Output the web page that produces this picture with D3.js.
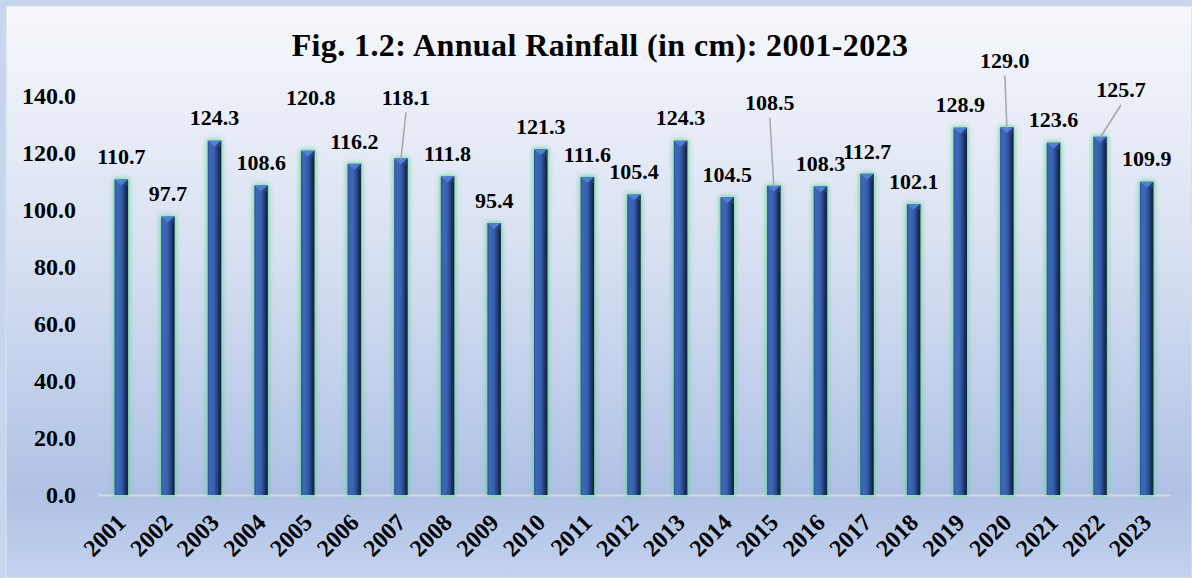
<!DOCTYPE html>
<html>
<head>
<meta charset="utf-8">
<script src="https://cdn.jsdelivr.net/npm/d3@7/dist/d3.min.js"></script>
<style>
html, body { margin: 0; padding: 0; background: #c6d6ee; }
svg { display: block; }
text { font-family: "Liberation Serif", "Times New Roman", serif; font-weight: bold; fill: #000; }
</style>
</head>
<body>
<svg id="chart" width="1192" height="578"></svg>
<script>
var years = ["2001","2002","2003","2004","2005","2006","2007","2008","2009","2010","2011","2012",
             "2013","2014","2015","2016","2017","2018","2019","2020","2021","2022","2023"];
var rainfall = [110.7, 97.7, 124.3, 108.6, 120.8, 116.2, 118.1, 111.8, 95.4, 121.3, 111.6, 105.4,
                124.3, 104.5, 108.5, 108.3, 112.7, 102.1, 128.9, 129.0, 123.6, 125.7, 109.9];
var yTicks = [0, 20, 40, 60, 80, 100, 120, 140];
var chartTitle = "Fig. 1.2: Annual Rainfall (in cm): 2001-2023";

// labels that were dragged away from their bar in the original (px), and the ones with a leader line
var labelMoves = { "2005": [3, -30], "2007": [5, -38], "2015": [-4, -60], "2020": [-2, -44], "2022": [21, -24] };
var leaderYears = ["2007", "2015", "2020", "2022"];

var svg = d3.select("#chart");
var W = 1192, H = 578;

var defs = svg.append("defs");

var bg = defs.append("linearGradient").attr("id", "bg")
	.attr("x1", 0).attr("y1", 0).attr("x2", 0).attr("y2", 1);
bg.append("stop").attr("offset", "0%").attr("stop-color", "#f7f8fc");
bg.append("stop").attr("offset", "45%").attr("stop-color", "#d6dff1");
bg.append("stop").attr("offset", "85%").attr("stop-color", "#afc1e5");
bg.append("stop").attr("offset", "100%").attr("stop-color", "#c3d2ee");

var face = defs.append("linearGradient").attr("id", "face")
	.attr("x1", 0).attr("y1", 0).attr("x2", 1).attr("y2", 0);
face.append("stop").attr("offset", "0%").attr("stop-color", "#2a4f98");
face.append("stop").attr("offset", "15%").attr("stop-color", "#3d68b8");
face.append("stop").attr("offset", "45%").attr("stop-color", "#3862b0");
face.append("stop").attr("offset", "68%").attr("stop-color", "#27478a");
face.append("stop").attr("offset", "85%").attr("stop-color", "#1a2c54");
face.append("stop").attr("offset", "100%").attr("stop-color", "#14213f");

// soft green halo behind the bars
var glow = defs.append("filter").attr("id", "glow")
	.attr("x", "-100%").attr("y", "-20%").attr("width", "300%").attr("height", "140%");
glow.append("feMorphology").attr("in", "SourceAlpha").attr("operator", "dilate").attr("radius", 1).attr("result", "d");
glow.append("feGaussianBlur").attr("in", "d").attr("stdDeviation", 2.6).attr("result", "b");
glow.append("feFlood").attr("flood-color", "#62d890").attr("flood-opacity", 0.95);
glow.append("feComposite").attr("in2", "b").attr("operator", "in");

// background panel
svg.append("rect").attr("x", 0).attr("y", 0).attr("width", W).attr("height", H).attr("fill", "#c6d6ee");
svg.append("rect").attr("x", 6).attr("y", 6).attr("width", W - 6).attr("height", H - 6)
	.attr("fill", "url(#bg)").attr("stroke", "#d9dde6").attr("stroke-width", 1.5);

var x = d3.scaleBand().domain(years).range([98, 1170]).paddingInner(0.71).paddingOuter(0.355);
var y = d3.scaleLinear().domain([0, 140]).range([495, 96]);

svg.append("text")
	.attr("x", 600).attr("y", 56)
	.attr("text-anchor", "middle")
	.style("font-size", "32px")
	.style("letter-spacing", "0.4px")
	.text(chartTitle);

// y axis, labels only
var yAxis = svg.append("g").attr("transform", "translate(98,0)")
	.call(d3.axisLeft(y).tickValues(yTicks).tickFormat(d3.format(".1f")).tickSize(0).tickPadding(22));
yAxis.select(".domain").remove();
yAxis.selectAll("text")
	.style("font-family", "Liberation Serif").style("font-weight", "bold")
	.style("font-size", "24px").attr("fill", "#000");

// x axis
var xAxis = svg.append("g").attr("transform", "translate(0,495)")
	.call(d3.axisBottom(x).tickSize(0).tickSizeOuter(0));
xAxis.select(".domain").attr("stroke", "#d9d9d9").attr("stroke-width", 1.8);
xAxis.selectAll("text")
	.attr("y", null).attr("dy", null)
	.attr("text-anchor", "end")
	.attr("transform", "translate(6,29) rotate(-45)")
	.style("font-family", "Liberation Serif").style("font-weight", "bold")
	.style("font-size", "24px").attr("fill", "#000");

var data = years.map(function(yr, i) { return { year: yr, v: rainfall[i] }; });
var bw = x.bandwidth();

var bars = svg.append("g").selectAll("g").data(data).enter().append("g");

bars.append("rect")
	.attr("x", function(d) { return x(d.year); })
	.attr("y", function(d) { return y(d.v); })
	.attr("width", bw)
	.attr("height", function(d) { return y(0) - y(d.v); })
	.attr("filter", "url(#glow)");

bars.append("rect")
	.attr("x", function(d) { return x(d.year); })
	.attr("y", function(d) { return y(d.v); })
	.attr("width", bw)
	.attr("height", function(d) { return y(0) - y(d.v); })
	.attr("fill", "url(#face)");

// bevel on top of each bar
bars.append("path")
	.attr("d", function(d) {
		var x0 = x(d.year), t = y(d.v);
		return "M" + x0 + "," + t + "L" + (x0 + bw) + "," + t + "L" + (x0 + bw / 2) + "," + (t + 6) + "Z";
	})
	.attr("fill", "#4f7fd0");
bars.append("path")
	.attr("d", function(d) {
		var x0 = x(d.year), t = y(d.v);
		return "M" + (x0 + bw / 2) + "," + (t + 6) + "L" + (x0 + bw) + "," + t + "L" + (x0 + bw) + "," + (t + 6) + "Z";
	})
	.attr("fill", "#2b4c8f").attr("opacity", 0.6);

function labelPos(d) {
	var m = labelMoves[d.year] || [0, 0];
	return { x: x(d.year) + bw / 2 + m[0], y: y(d.v) - 23 + m[1] };
}

svg.append("g").selectAll("line")
	.data(data.filter(function(d) { return leaderYears.indexOf(d.year) >= 0; }))
	.enter().append("line")
	.attr("x1", function(d) { return labelPos(d).x; })
	.attr("y1", function(d) { return labelPos(d).y + 15; })
	.attr("x2", function(d) { return x(d.year) + bw / 2; })
	.attr("y2", function(d) { return y(d.v) + 1; })
	.attr("stroke", "#a6a6a6").attr("stroke-width", 1.5);

svg.append("g").selectAll("text").data(data).enter().append("text")
	.attr("x", function(d) { return labelPos(d).x; })
	.attr("y", function(d) { return labelPos(d).y; })
	.attr("dy", "0.35em")
	.attr("text-anchor", "middle")
	.style("font-size", "22px")
	.text(function(d) { return d.v.toFixed(1); });
</script>
</body>
</html>
